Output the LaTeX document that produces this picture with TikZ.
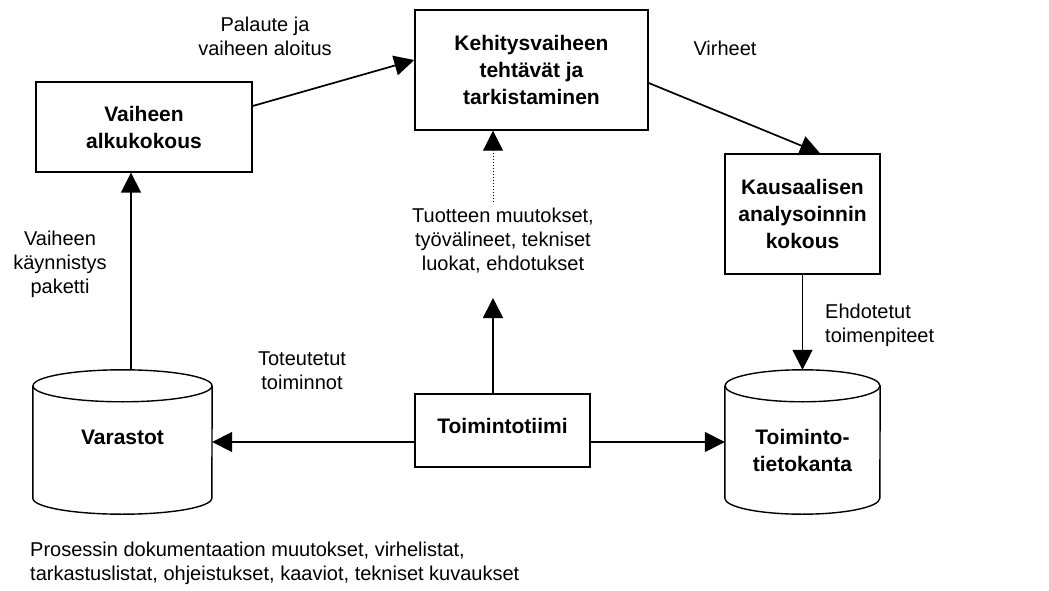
\documentclass[tikz,border=0pt]{standalone}
\usepackage{fontspec}
\setmainfont{Liberation Sans}
\usetikzlibrary{arrows.meta,calc}

\tikzset{
  x=1pt, y=1pt,
  every node/.style={font=\fontsize{20}{25}\selectfont, align=center, inner sep=0pt},
  boldtext/.style={font=\fontsize{21}{27}\selectfont\bfseries, align=center},
  procbox/.style={draw, line width=1.4pt, boldtext},
  store/.style={minimum height=144pt},
  flow/.style={line width=1.7pt, -{Triangle[length=20pt,width=20pt]}},
  hint/.style={line width=1pt, dotted, -{Triangle[length=20pt,width=20pt]}},
  note/.style={font=\fontsize{20}{24}\selectfont}
}

\begin{document}
\begin{tikzpicture}
\useasboundingbox (0,0) rectangle (1049,590);

% processes
\node[procbox, minimum width=216pt, minimum height=90pt] (vak) at (144,463) {Vaiheen\\alkukokous};
\node[procbox, minimum width=233pt, minimum height=120pt] (keh) at (531.5,520) {Kehitysvaiheen\\tehtävät ja\\tarkistaminen};
\node[procbox, minimum width=155pt, minimum height=120pt] (kaus) at (802.5,376) {Kausaalisen\\analysoinnin\\kokous};
\node[draw, line width=1.4pt, minimum width=175pt, minimum height=73pt,
      label={[boldtext, yshift=5pt]center:Toimintotiimi}] (tt) at (502.5,159.5) {};

% stores
\node[store, minimum width=179pt,
      label={[boldtext, yshift=5pt]center:Varastot}] (va) at (122.5,148) {};
\node[store, minimum width=155pt,
      label={[boldtext, yshift=-8pt]center:Toiminto-\\tietokanta}] (tk) at (802.5,148) {};
\begin{scope}[line width=1.4pt]
  \draw ($(va.north)+(0,-16)$) ellipse [x radius=89.5pt, y radius=16pt];
  \draw ($(va.north west)+(0,-16)$) -- ($(va.south west)+(0,16)$)
     arc[start angle=180, end angle=360, x radius=89.5pt, y radius=16pt]
     -- ($(va.north east)+(0,-16)$);
  \draw ($(tk.north)+(0,-16)$) ellipse [x radius=77.5pt, y radius=16pt];
  \draw ($(tk.north west)+(0,-16)$) -- ($(tk.south west)+(0,16)$)
     arc[start angle=180, end angle=360, x radius=77.5pt, y radius=16pt]
     -- ($(tk.north east)+(0,-16)$);
\end{scope}

% connectors
\coordinate (up) at (493,292);
\coordinate (dt) at (493,388);
\draw[flow] ([xshift=8.5pt]va.north) -- ([xshift=-13pt]vak.south);
\draw[flow] ([yshift=21pt]vak.east) -- ([yshift=10pt]keh.west);
\draw[flow] ([yshift=-13pt]keh.east) -- ([xshift=17.5pt]kaus.north);
\draw[flow] (kaus.south) -- (tk.north);
\draw[flow] ([yshift=-11.5pt]tt.west) -- (va.east);
\draw[flow] ([yshift=-11.5pt]tt.east) -- (tk.west);
\draw[flow] ([xshift=-9.5pt]tt.north) -- (up);
\draw[hint] (dt) -- (keh.south -| dt);

% labels
\node[note] (l1) at (265,554) {Palaute ja\\vaiheen aloitus};
\node[note] (l2) at (725,542) {Virheet};
\node[note] (l3) at (503,349) {Tuotteen muutokset,\\työvälineet, tekniset\\luokat, ehdotukset};
\node[note] (l4) at (60,326) {Vaiheen\\käynnistys\\paketti};
\node[note] (l5) at (302,219) {Toteutetut\\toiminnot};
\node[note, anchor=west, align=left] (l6) at (825,265) {Ehdotetut\\toimenpiteet};
\node[note, anchor=west, align=left] (l7) at (30,27) {Prosessin dokumentaation muutokset, virhelistat,\\tarkastuslistat, ohjeistukset, kaaviot, tekniset kuvaukset};
\end{tikzpicture}
\end{document}
